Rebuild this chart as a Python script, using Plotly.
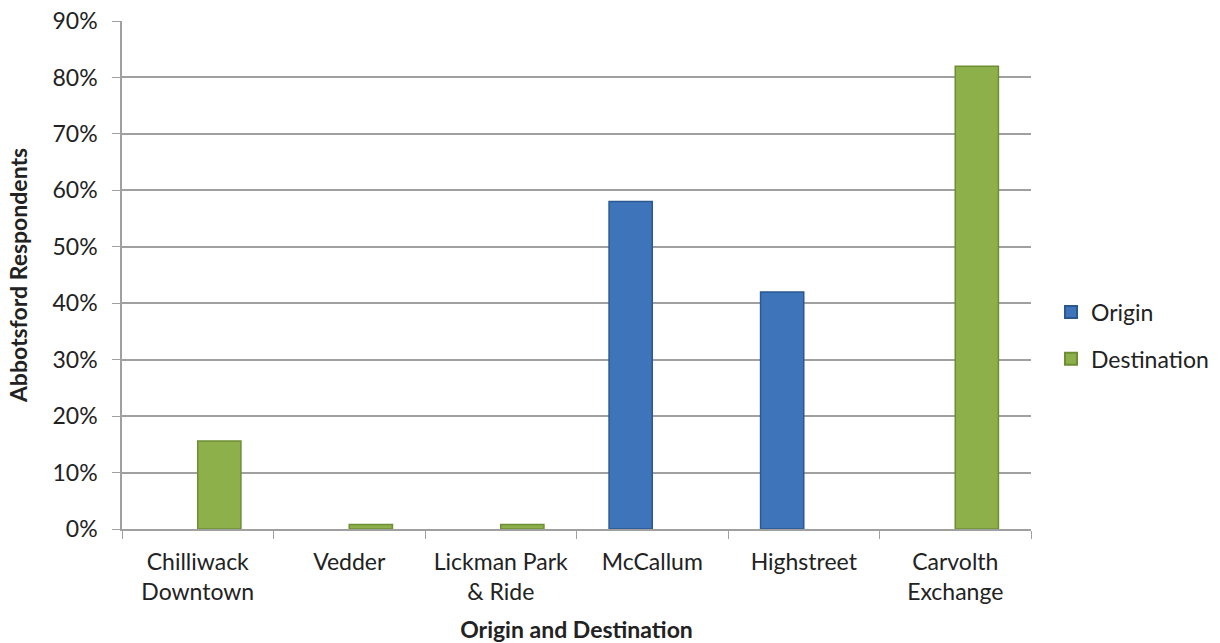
import plotly.graph_objects as go

categories = ["Chilliwack<br>Downtown", "Vedder", "Lickman Park<br>& Ride", "McCallum", "Highstreet", "Carvolth<br>Exchange"]
origin = [0, 0, 0, 58, 42, 0]
destination = [15.6, 0.8, 0.8, 0, 0, 82]
y_ticks = [0, 10, 20, 30, 40, 50, 60, 70, 80, 90]
y_tick_labels = ["0%", "10%", "20%", "30%", "40%", "50%", "60%", "70%", "80%", "90%"]

FONT = "Lato, 'Open Sans', sans-serif"


def outline_widths(values):
    return [1.5 if v > 0 else 0 for v in values]


fig = go.Figure()
fig.add_trace(go.Bar(
    x=categories, y=origin, name="Origin", legendgroup="o",
    marker=dict(color="#3D74BA", line=dict(color="#2B5890", width=outline_widths(origin))),
))
fig.add_trace(go.Bar(
    x=categories, y=destination, name="Destination", legendgroup="d",
    marker=dict(color="#8DB04A", line=dict(color="#6E8E34", width=outline_widths(destination))),
))

fig.update_layout(
    width=1220, height=643,
    margin=dict(l=122, r=189, t=21, b=114, autoexpand=False),
    paper_bgcolor="white", plot_bgcolor="white",
    barmode="group", bargap=0.43, bargroupgap=0,
    font=dict(family=FONT, size=23, color="#222222"),
    legend=dict(x=1.022, y=0.381, yanchor="middle", xanchor="left",
                font=dict(size=23), itemsizing="constant",
                tracegroupgap=14, bgcolor="rgba(0,0,0,0)"),
    showlegend=True,
)
fig.update_xaxes(
    title=dict(text="<b>Origin and Destination</b>", font=dict(size=23), standoff=22),
    showline=True, linecolor="#A0A0A0", linewidth=1.5,
    ticks="outside", tickson="boundaries", ticklen=8, tickcolor="#A0A0A0",
    ticklabelstandoff=12,
    showgrid=False, tickfont=dict(size=23),
)
fig.update_yaxes(
    title=dict(text="<b>Abbotsford Respondents</b>", font=dict(size=23), standoff=18),
    range=[0, 90], tickmode="array", tickvals=y_ticks, ticktext=y_tick_labels,
    showline=True, linecolor="#A0A0A0", linewidth=1.5,
    ticks="outside", ticklen=8, tickcolor="#A0A0A0",
    ticklabelstandoff=10,
    showgrid=True, gridcolor="#A0A0A0", gridwidth=1.5,
    zeroline=False, tickfont=dict(size=23),
)

fig.write_html("out.html")
